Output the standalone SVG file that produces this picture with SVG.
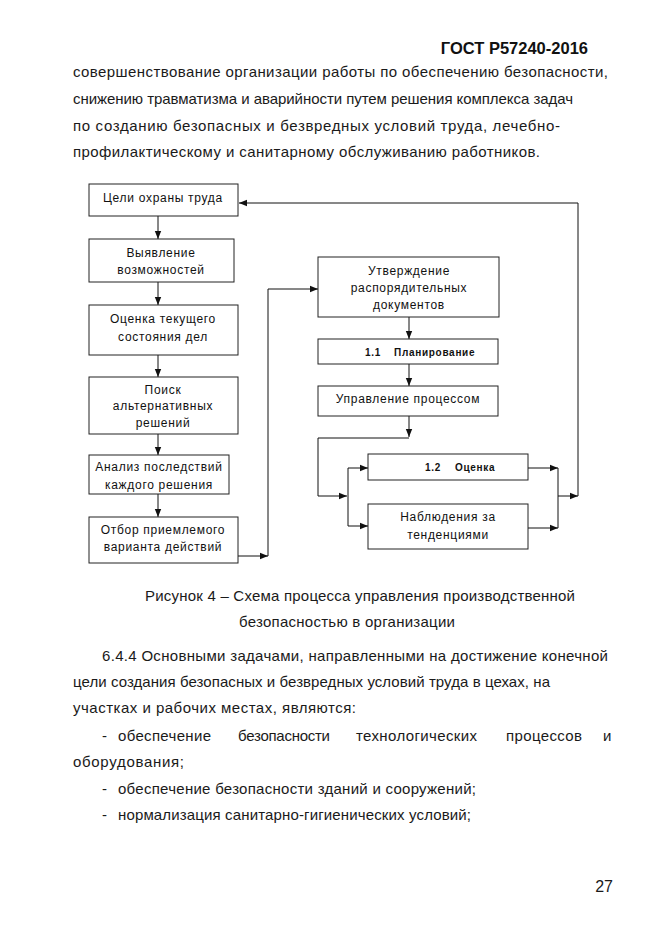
<svg xmlns="http://www.w3.org/2000/svg" width="661" height="935" viewBox="0 0 661 935">
<defs>
<style>
.pg{font-family:"Liberation Sans",Arial,sans-serif;font-size:15px;fill:#1a1a1a}
.hd{font-family:"Liberation Sans",Arial,sans-serif;font-size:16.5px;font-weight:bold;fill:#111}
.bx{fill:#fff;stroke:#222;stroke-width:1}
.bt{font-family:"Liberation Sans",Arial,sans-serif;font-size:12px;letter-spacing:0.7px;fill:#111;text-anchor:middle}
.bb{font-family:"Liberation Sans",Arial,sans-serif;font-size:10px;font-weight:bold;letter-spacing:0.7px;fill:#111}
.cn{fill:none;stroke:#111;stroke-width:1}
</style>
<marker id="ah" markerUnits="userSpaceOnUse" markerWidth="8" markerHeight="8" viewBox="0 0 8 8" refX="8" refY="4" orient="auto">
<path d="M0,0.8 L8,4 L0,7.2 Z" fill="#111"/>
</marker>
</defs>
<rect width="661" height="935" fill="#fff"/>

<text class="hd" x="588" y="54" text-anchor="end">ГОСТ Р57240-2016</text>
<text class="pg" x="73" y="77" textLength="535" lengthAdjust="spacing">совершенствование организации работы по обеспечению безопасности,</text>
<text class="pg" x="73" y="104" textLength="500" lengthAdjust="spacing">снижению травматизма и аварийности путем решения комплекса задач</text>
<text class="pg" x="73" y="131" textLength="487" lengthAdjust="spacing">по созданию безопасных и безвредных условий труда, лечебно-</text>
<text class="pg" x="73" y="157" textLength="467" lengthAdjust="spacing">профилактическому и санитарному обслуживанию работников.</text>

<g id="connectors">
<line class="cn" x1="158" y1="216" x2="158" y2="239" marker-end="url(#ah)"/>
<line class="cn" x1="158" y1="282" x2="158" y2="305" marker-end="url(#ah)"/>
<line class="cn" x1="158" y1="355" x2="158" y2="377" marker-end="url(#ah)"/>
<line class="cn" x1="158" y1="434" x2="158" y2="455" marker-end="url(#ah)"/>
<line class="cn" x1="158" y1="494" x2="158" y2="517" marker-end="url(#ah)"/>
<line class="cn" x1="238" y1="556" x2="268" y2="556" marker-end="url(#ah)"/>
<polyline class="cn" points="268,556 268,289 318,289" marker-end="url(#ah)"/>
<line class="cn" x1="409" y1="317" x2="409" y2="339" marker-end="url(#ah)"/>
<line class="cn" x1="409" y1="364" x2="409" y2="386" marker-end="url(#ah)"/>
<line class="cn" x1="409" y1="416" x2="409" y2="437" marker-end="url(#ah)"/>
<polyline class="cn" points="409,438 318,438 318,496 347,496" marker-end="url(#ah)"/>
<line class="cn" x1="348" y1="468" x2="348" y2="526"/>
<line class="cn" x1="348" y1="468" x2="368" y2="468" marker-end="url(#ah)"/>
<line class="cn" x1="348" y1="526" x2="368" y2="526" marker-end="url(#ah)"/>
<line class="cn" x1="528" y1="468" x2="558" y2="468" marker-end="url(#ah)"/>
<line class="cn" x1="528" y1="528" x2="558" y2="528" marker-end="url(#ah)"/>
<line class="cn" x1="558" y1="468" x2="558" y2="528"/>
<line class="cn" x1="558" y1="496" x2="578" y2="496" marker-end="url(#ah)"/>
<polyline class="cn" points="578,496 578,203 239,203" marker-end="url(#ah)"/>
</g>

<g id="n1"><rect class="bx" x="89" y="184" width="149" height="32"/><text class="bt" x="163" y="202">Цели охраны труда</text></g>
<g id="n2"><rect class="bx" x="89" y="239" width="145" height="43"/><text class="bt" x="161" y="257">Выявление</text><text class="bt" x="161" y="274">возможностей</text></g>
<g id="n3"><rect class="bx" x="89" y="305" width="149" height="50"/><text class="bt" x="163" y="323">Оценка текущего</text><text class="bt" x="163" y="341">состояния дел</text></g>
<g id="n4"><rect class="bx" x="89" y="377" width="149" height="57"/><text class="bt" x="163" y="394">Поиск</text><text class="bt" x="163" y="410">альтернативных</text><text class="bt" x="163" y="427">решений</text></g>
<g id="n5"><rect class="bx" x="89" y="455" width="140" height="39"/><text class="bt" x="159" y="471">Анализ последствий</text><text class="bt" x="159" y="489">каждого решения</text></g>
<g id="n6"><rect class="bx" x="89" y="517" width="149" height="46"/><text class="bt" x="163" y="534">Отбор приемлемого</text><text class="bt" x="163" y="551">варианта действий</text></g>
<g id="n7"><rect class="bx" x="318" y="257" width="181" height="60"/><text class="bt" x="409" y="275">Утверждение</text><text class="bt" x="409" y="292">распорядительных</text><text class="bt" x="409" y="309">документов</text></g>
<g id="n8"><rect class="bx" x="318" y="339" width="180" height="25"/><text class="bb" x="365" y="356">1.1</text><text class="bb" x="394" y="356">Планирование</text></g>
<g id="n9"><rect class="bx" x="318" y="386" width="180" height="30"/><text class="bt" x="408" y="403">Управление процессом</text></g>
<g id="n10"><rect class="bx" x="368" y="454" width="160" height="26"/><text class="bb" x="425" y="471">1.2</text><text class="bb" x="455" y="471">Оценка</text></g>
<g id="n11"><rect class="bx" x="368" y="504" width="160" height="45"/><text class="bt" x="448" y="521">Наблюдения за</text><text class="bt" x="448" y="539">тенденциями</text></g>

<text class="pg" x="145" y="601" textLength="430" lengthAdjust="spacing">Рисунок 4 – Схема процесса управления производственной</text>
<text class="pg" x="239" y="627" textLength="216" lengthAdjust="spacing">безопасностью в организации</text>
<text class="pg" x="102" y="661" textLength="506" lengthAdjust="spacing">6.4.4 Основными задачами, направленными на достижение конечной</text>
<text class="pg" x="73" y="687" textLength="477" lengthAdjust="spacing">цели создания безопасных и безвредных условий труда в цехах, на</text>
<text class="pg" x="73" y="713" textLength="283" lengthAdjust="spacing">участках и рабочих местах, являются:</text>
<text class="pg" x="102" y="741">-</text>
<text class="pg" x="118" y="741" textLength="93" lengthAdjust="spacing">обеспечение</text>
<text class="pg" x="238" y="741" textLength="92" lengthAdjust="spacing">безопасности</text>
<text class="pg" x="356" y="741" textLength="121" lengthAdjust="spacing">технологических</text>
<text class="pg" x="506" y="741" textLength="76" lengthAdjust="spacing">процессов</text>
<text class="pg" x="603" y="741">и</text>
<text class="pg" x="73" y="767" textLength="111" lengthAdjust="spacing">оборудования;</text>
<text class="pg" x="102" y="794">-</text>
<text class="pg" x="118" y="794" textLength="358" lengthAdjust="spacing">обеспечение безопасности зданий и сооружений;</text>
<text class="pg" x="102" y="820">-</text>
<text class="pg" x="118" y="820" textLength="353" lengthAdjust="spacing">нормализация санитарно-гигиенических условий;</text>
<text class="pg" x="613" y="892" text-anchor="end" style="font-size:16px">27</text>
</svg>
